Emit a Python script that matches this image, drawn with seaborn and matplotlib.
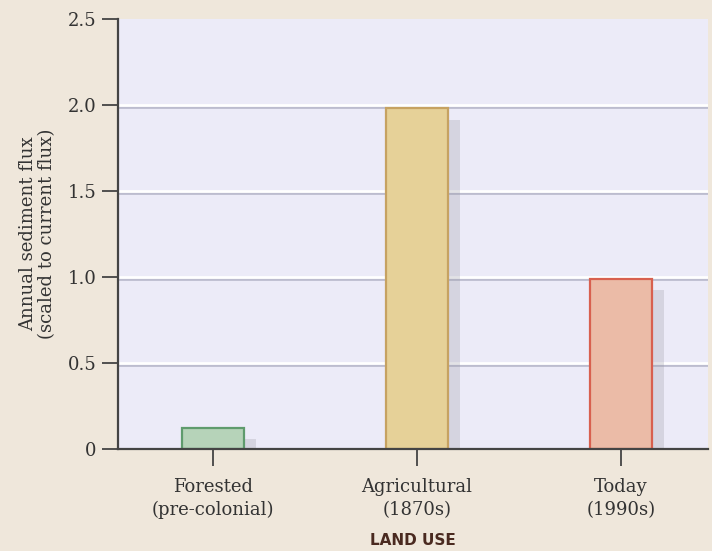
import matplotlib
matplotlib.use("Agg")
import matplotlib.pyplot as plt
import matplotlib.patheffects as pe
import seaborn as sns
import pandas as pd

# data
periods = ["Forested\n(pre-colonial)", "Agricultural\n(1870s)", "Today\n(1990s)"]
flux = [0.12, 1.98, 0.99]
y_ticks = [0, 0.5, 1.0, 1.5, 2.0, 2.5]
y_tick_labels = ["0", "0.5", "1.0", "1.5", "2.0", "2.5"]

face_colors = ["#B6D3B9", "#E6D198", "#EBBBA7"]
edge_colors = ["#5F9B6D", "#C6A262", "#D8604F"]

df = pd.DataFrame({"period": periods, "flux": flux})

sns.set_style("white")
plt.rcParams["font.family"] = ["DejaVu Serif"]

fig = plt.figure(figsize=(7.12, 5.51), dpi=100)
fig.patch.set_facecolor("#EFE7DB")
ax = fig.add_axes([118 / 712, 102 / 551, 590 / 712, 430 / 551])
ax.set_facecolor("#ECEBF8")

# grid lines: white with a thin grey shadow underneath
for v in y_ticks[1:-1]:
    ax.axhline(v, color="white", lw=2.0, zorder=1,
               path_effects=[pe.SimpleLineShadow(offset=(0, -1.3), shadow_color="#A8A8BE", alpha=0.7),
                             pe.Normal()])

sns.barplot(data=df, x="period", y="flux", hue="period", palette=face_colors,
            saturation=1, width=0.3, legend=False, ax=ax, zorder=3)

for bar, ec in zip(ax.patches, edge_colors):
    bar.set_edgecolor(ec)
    bar.set_linewidth(1.6)
    bar.set_path_effects([pe.SimplePatchShadow(offset=(9, -8), shadow_rgbFace="#9a9aa5", alpha=0.28),
                          pe.Normal()])

ax.set_ylim(0, 2.5)
ax.set_xlim(-0.466, 2.426)
ax.set_yticks(y_ticks)
ax.set_yticklabels(y_tick_labels)

for s in ["top", "right"]:
    ax.spines[s].set_visible(False)
for s in ["left", "bottom"]:
    ax.spines[s].set_color("#444444")
    ax.spines[s].set_linewidth(1.6)
    ax.spines[s].set_zorder(5)

ax.tick_params(axis="y", direction="out", length=11.5, width=1.3, color="#444444",
               labelsize=13, labelcolor="#333333", pad=4, left=True)
ax.tick_params(axis="x", direction="out", length=12, width=1.3, color="#444444",
               labelsize=13, labelcolor="#333333", pad=9, bottom=True)
for lbl in ax.get_xticklabels():
    lbl.set_linespacing(1.35)

ax.set_ylabel("Annual sediment flux\n(scaled to current flux)", fontsize=13,
              color="#333333", linespacing=1.05)
ax.yaxis.set_label_coords(-0.105, 0.5)
ax.set_xlabel("LAND USE", fontsize=11, fontweight="bold", color="#4A2A20",
              family=["DejaVu Sans"], labelpad=10)

fig.savefig("out.png", dpi=100, facecolor=fig.get_facecolor())
